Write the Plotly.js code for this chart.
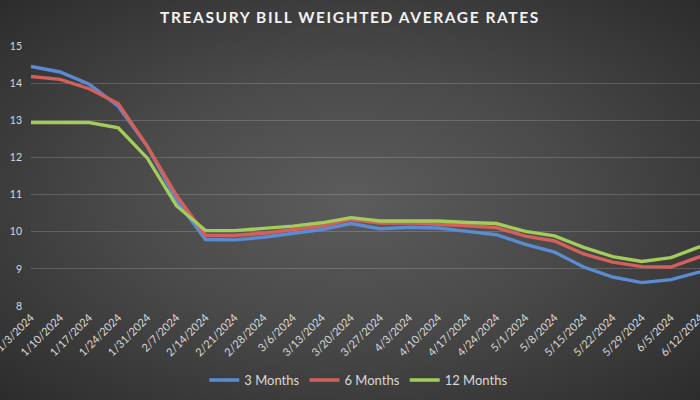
<!DOCTYPE html>
<html>
<head>
<meta charset="utf-8">
<script src="https://cdn.plot.ly/plotly-3.0.1.min.js"></script>
<style>
html,body{margin:0;padding:0;}
#chart{width:700px;height:400px;background:radial-gradient(ellipse at 50% 50%, #5c5c5c 0%, #4a4a4a 45%, #2c2c2c 100%);}
.gtitle{letter-spacing:1.6px;}
</style>
</head>
<body>
<div id="chart"></div>
<script>
const dates = ["1/3/2024","1/10/2024","1/17/2024","1/24/2024","1/31/2024","2/7/2024","2/14/2024","2/21/2024","2/28/2024","3/6/2024","3/13/2024","3/20/2024","3/27/2024","4/3/2024","4/10/2024","4/17/2024","4/24/2024","5/1/2024","5/8/2024","5/15/2024","5/22/2024","5/29/2024","6/5/2024","6/12/2024"];
const months3 = [14.45,14.3,13.97,13.38,12.3,10.85,9.79,9.78,9.85,9.95,10.06,10.22,10.08,10.12,10.1,10.01,9.92,9.66,9.45,9.05,8.78,8.63,8.71,8.92];
const months6 = [14.18,14.1,13.85,13.45,12.3,10.98,9.9,9.9,9.96,10.06,10.15,10.33,10.23,10.24,10.21,10.16,10.11,9.88,9.75,9.4,9.18,9.06,9.05,9.33];
const months12 = [12.94,12.94,12.94,12.8,11.98,10.7,10.03,10.03,10.08,10.15,10.24,10.38,10.29,10.3,10.29,10.25,10.22,10.01,9.89,9.58,9.33,9.2,9.3,9.6];
const seriesNames = ["3 Months","6 Months","12 Months"];
const seriesColors = ["#5b8bd2","#d3605b","#a3cc5a"];
const seriesData = [months3, months6, months12];

const traces = seriesData.map((ys, i) => ({
  type: "scatter", mode: "lines", name: seriesNames[i],
  x: dates, y: ys,
  line: {color: seriesColors[i], width: 3.4},
  hoverinfo: "x+y+name"
}));

const layout = {
  width: 700, height: 400,
  paper_bgcolor: "rgba(0,0,0,0)", plot_bgcolor: "rgba(0,0,0,0)",
  margin: {l: 31, r: 0, t: 46, b: 94},
  font: {family: "Lato, 'Open Sans', sans-serif", color: "#d9d9d9", size: 11},
  title: {text: "<b>TREASURY BILL WEIGHTED AVERAGE RATES</b>", x: 0.5, xanchor: "center", y: 0.955, yanchor: "middle",
          font: {family: "Lato, 'Open Sans', sans-serif", size: 15.5, color: "#f2f2f2"}},
  xaxis: {type: "category", range: [0, 23], tickangle: -45, showgrid: false, zeroline: false,
          showline: false, ticks: "", tickfont: {size: 11, color: "#d9d9d9"}, ticklabelstandoff: 2, fixedrange: true},
  yaxis: {range: [8, 15], dtick: 1, showgrid: true, gridcolor: "rgba(255,255,255,0.17)", gridwidth: 1,
          zeroline: false, showline: false, ticks: "", tickfont: {size: 10.5, color: "#d9d9d9"}, ticklabelstandoff: 8},
  legend: {orientation: "h", x: 0.49, xanchor: "center", y: -0.285, yanchor: "middle",
           font: {size: 13, color: "#d9d9d9"}, bgcolor: "rgba(0,0,0,0)"},
  showlegend: true
};

Plotly.newPlot("chart", traces, layout, {displayModeBar: false, staticPlot: true});
</script>
</body>
</html>
